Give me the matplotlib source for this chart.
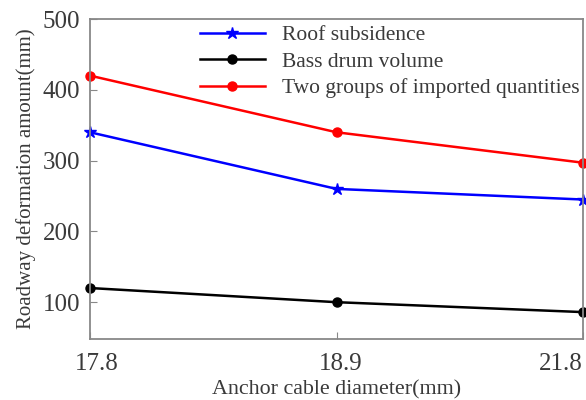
import matplotlib.pyplot as plt
import matplotlib.transforms as mtransforms

# anchor cable diameters (mm), equally spaced categories
diameters = ["17.8", "18.9", "21.8"]
roof_subsidence = [340, 260, 245]
bass_drum = [120, 100, 86]
two_groups = [420, 340, 297]

plt.rcParams['font.family'] = ['Liberation Serif', 'DejaVu Serif']

fig = plt.figure(figsize=(5.86, 4.0), dpi=100)
ax = fig.add_axes([0.1536, 0.1525, 0.8414, 0.8])

x = range(len(diameters))
ax.plot(x, roof_subsidence, color='#0000ff', marker='*', markersize=9, lw=1.8, label='Roof subsidence', clip_on=False)
ax.plot(x, bass_drum, color='black', marker='o', markersize=6.5, lw=1.8, label='Bass drum volume', clip_on=False)
ax.plot(x, two_groups, color='#ff0000', marker='o', markersize=6.5, lw=1.8, label='Two groups of imported quantities', clip_on=False)

ax.set_xlim(0, 2)
ax.set_ylim(48, 500)
ax.set_xticks(list(x))
ax.set_xticklabels(diameters)
ax.set_yticks([100, 200, 300, 400, 500])

for s in ax.spines.values():
    s.set_color('#888888')
    s.set_linewidth(1.3)
ax.tick_params(direction='in', colors='#888888', labelcolor='#3a3a3a', labelsize=18, length=5)
ax.tick_params(axis='x', pad=10)
ax.tick_params(axis='y', pad=7)

# x labels in the reference sit a bit right of their ticks; the last one hugs the edge
labels = ax.get_xticklabels()
for lab, dx in zip(labels[:2], [7, 4]):
    lab.set_transform(lab.get_transform() + mtransforms.ScaledTranslation(dx / 100, 0, fig.dpi_scale_trans))
labels[-1].set_horizontalalignment('right')

ax.set_xlabel('Anchor cable diameter(mm)', fontsize=15.8, color='#3a3a3a', labelpad=4)
ax.set_ylabel('Roadway deformation amount(mm)', fontsize=15, color='#3a3a3a', labelpad=5)

ax.legend(loc='upper left', bbox_to_anchor=(0.206, 1.008), frameon=False, fontsize=15.5,
          handlelength=3.0, labelspacing=0.3, borderaxespad=0, handletextpad=0.8,
          labelcolor='#3a3a3a')

fig.savefig('out.png', dpi=100)
